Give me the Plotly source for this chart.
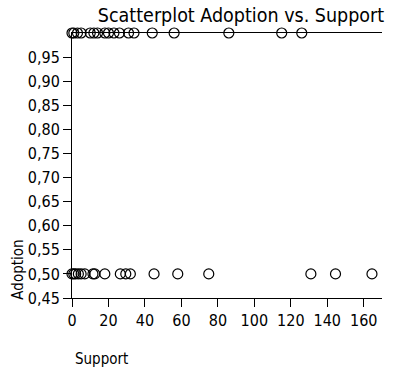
import plotly.graph_objects as go

support_top = [0, 1, 3, 5, 10, 12, 14, 18, 20, 23, 26, 31, 34, 44, 56, 86, 115, 126]
adoption_top = [1.0] * len(support_top)
support_bottom = [0, 1, 2, 3.5, 5, 7, 11.5, 12.5, 18, 26.5, 29.5, 32, 45, 58, 75, 131, 144.5, 164.5]
adoption_bottom = [0.5] * len(support_bottom)

x_ticks = [0, 20, 40, 60, 80, 100, 120, 140, 160]
y_ticks = [0.45, 0.50, 0.55, 0.60, 0.65, 0.70, 0.75, 0.80, 0.85, 0.90, 0.95]
y_labels = ["0,45", "0,50", "0,55", "0,60", "0,65", "0,70", "0,75", "0,80", "0,85", "0,90", "0,95"]

FONT = "DejaVu Sans Condensed, DejaVu Sans, sans-serif"

fig = go.Figure()
fig.add_trace(go.Scatter(
    x=support_top + support_bottom,
    y=adoption_top + adoption_bottom,
    mode="markers",
    marker=dict(symbol="circle-open", size=10, color="black", line=dict(width=1.2)),
    cliponaxis=False,
    showlegend=False,
))

fig.update_layout(
    width=401, height=372,
    margin=dict(l=72, r=19, t=33, b=74),
    paper_bgcolor="white", plot_bgcolor="white",
    font=dict(family=FONT, color="black", size=16),
    title=dict(text="Scatterplot Adoption vs. Support", x=0.601, xanchor="center",
               xref="container", yref="container",
               y=0.978, yanchor="top", font=dict(family=FONT, size=19.5, color="black")),
    xaxis=dict(range=[0, 170], tickvals=x_ticks, ticks="outside", ticklen=8,
               tickcolor="black", showline=True, linecolor="black", linewidth=1,
               mirror=True, showgrid=False, zeroline=False,
               tickfont=dict(size=16)),
    yaxis=dict(range=[0.45, 1.0], tickvals=y_ticks, ticktext=y_labels, ticks="outside",
               ticklen=8, tickcolor="black", showline=True, linecolor="black", linewidth=1,
               showgrid=False, zeroline=False, tickfont=dict(size=16)),
    annotations=[
        dict(text="Adoption", xref="paper", yref="paper", x=-0.177, y=0.1075,
             xanchor="center", yanchor="middle", textangle=-90, showarrow=False,
             font=dict(size=15)),
        dict(text="Support", xref="paper", yref="paper", x=0.003, y=-0.189,
             xanchor="left", yanchor="top", showarrow=False, font=dict(size=15)),
    ],
)

fig.write_html("out.html", config={"displayModeBar": False},
               post_script="document.body.style.margin='0';")
